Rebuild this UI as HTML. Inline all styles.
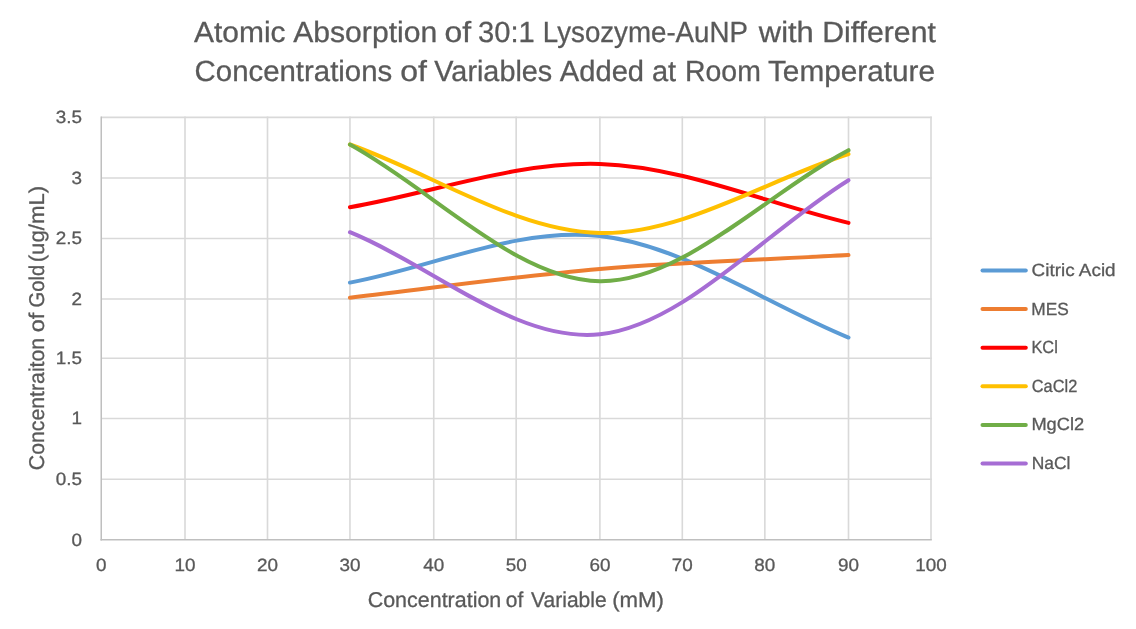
<!DOCTYPE html>
<html><head><meta charset="utf-8"><title>Atomic Absorption Chart</title>
<style>
html,body{margin:0;padding:0;background:#fff;}
body{width:1136px;height:629px;overflow:hidden;}
svg{display:block;will-change:transform;text-rendering:geometricPrecision;}
text{font-family:"Liberation Sans",Arial,sans-serif;fill:#595959;stroke:#595959;stroke-width:0.3px;}
.ax{font-size:17.8px;}
.at{font-size:21.4px;}
.ti{font-size:29.2px;}
.lg{font-size:17.6px;}
</style></head>
<body>
<svg width="1136" height="629" viewBox="0 0 1136 629">
<rect width="1136" height="629" fill="#fff"/>
<line x1="185.00" y1="116.62" x2="185.00" y2="539.70" stroke="#D9D9D9" stroke-width="1.62"/>
<line x1="267.50" y1="116.62" x2="267.50" y2="539.70" stroke="#D9D9D9" stroke-width="1.62"/>
<line x1="349.95" y1="116.62" x2="349.95" y2="539.70" stroke="#D9D9D9" stroke-width="1.62"/>
<line x1="433.75" y1="116.62" x2="433.75" y2="539.70" stroke="#D9D9D9" stroke-width="1.62"/>
<line x1="516.15" y1="116.62" x2="516.15" y2="539.70" stroke="#D9D9D9" stroke-width="1.62"/>
<line x1="599.90" y1="116.62" x2="599.90" y2="539.70" stroke="#D9D9D9" stroke-width="1.62"/>
<line x1="682.30" y1="116.62" x2="682.30" y2="539.70" stroke="#D9D9D9" stroke-width="1.62"/>
<line x1="764.85" y1="116.62" x2="764.85" y2="539.70" stroke="#D9D9D9" stroke-width="1.62"/>
<line x1="848.50" y1="116.62" x2="848.50" y2="539.70" stroke="#D9D9D9" stroke-width="1.62"/>
<line x1="931.00" y1="116.62" x2="931.00" y2="539.70" stroke="#D9D9D9" stroke-width="1.62"/>
<line x1="101.25" y1="479.20" x2="931.81" y2="479.20" stroke="#D9D9D9" stroke-width="1.62"/>
<line x1="101.25" y1="418.50" x2="931.81" y2="418.50" stroke="#D9D9D9" stroke-width="1.62"/>
<line x1="101.25" y1="358.30" x2="931.81" y2="358.30" stroke="#D9D9D9" stroke-width="1.62"/>
<line x1="101.25" y1="299.00" x2="931.81" y2="299.00" stroke="#D9D9D9" stroke-width="1.62"/>
<line x1="101.25" y1="238.50" x2="931.81" y2="238.50" stroke="#D9D9D9" stroke-width="1.62"/>
<line x1="101.25" y1="178.00" x2="931.81" y2="178.00" stroke="#D9D9D9" stroke-width="1.62"/>
<line x1="101.25" y1="117.43" x2="931.81" y2="117.43" stroke="#D9D9D9" stroke-width="1.62"/>
<line x1="101.25" y1="116.62" x2="101.25" y2="540.46" stroke="#BFBFBF" stroke-width="1.52"/>
<line x1="100.49" y1="539.70" x2="931.81" y2="539.70" stroke="#BFBFBF" stroke-width="1.52"/>
<path d="M349.95,282.60 C433.27,267.10 516.81,226.94 599.90,236.10 C682.99,245.26 765.63,303.73 848.50,337.55" fill="none" stroke="#5B9BD5" stroke-width="4.0" stroke-linecap="round" stroke-linejoin="round"/>
<path d="M349.95,297.65 C433.27,288.07 516.81,275.99 599.90,268.90 C682.99,261.81 765.63,259.70 848.50,255.10" fill="none" stroke="#ED7D31" stroke-width="4.0" stroke-linecap="round" stroke-linejoin="round"/>
<path d="M349.95,207.20 C433.27,192.77 516.81,161.29 599.90,163.90 C682.99,166.51 765.63,203.21 848.50,222.87" fill="none" stroke="#FF0000" stroke-width="4.0" stroke-linecap="round" stroke-linejoin="round"/>
<path d="M349.95,144.50 C433.27,174.00 516.81,231.42 599.90,233.00 C682.99,234.58 765.63,180.33 848.50,154.00" fill="none" stroke="#FFC000" stroke-width="4.0" stroke-linecap="round" stroke-linejoin="round"/>
<path d="M349.95,144.60 C433.27,190.13 516.81,280.27 599.90,281.20 C682.99,282.13 765.63,193.87 848.50,150.20" fill="none" stroke="#70AD47" stroke-width="4.0" stroke-linecap="round" stroke-linejoin="round"/>
<path d="M349.95,232.20 C433.27,266.23 516.81,342.97 599.90,334.30 C682.99,325.63 765.63,231.57 848.50,180.20" fill="none" stroke="#A66DD4" stroke-width="4.0" stroke-linecap="round" stroke-linejoin="round"/>
<text x="82.1" y="545.60" text-anchor="end" class="ax" textLength="10.49" lengthAdjust="spacingAndGlyphs">0</text>
<text x="82.1" y="485.10" text-anchor="end" class="ax" textLength="26.23" lengthAdjust="spacingAndGlyphs">0.5</text>
<text x="82.1" y="424.40" text-anchor="end" class="ax" textLength="10.49" lengthAdjust="spacingAndGlyphs">1</text>
<text x="82.1" y="364.20" text-anchor="end" class="ax" textLength="26.23" lengthAdjust="spacingAndGlyphs">1.5</text>
<text x="82.1" y="304.90" text-anchor="end" class="ax" textLength="10.49" lengthAdjust="spacingAndGlyphs">2</text>
<text x="82.1" y="244.40" text-anchor="end" class="ax" textLength="26.23" lengthAdjust="spacingAndGlyphs">2.5</text>
<text x="82.1" y="183.90" text-anchor="end" class="ax" textLength="10.49" lengthAdjust="spacingAndGlyphs">3</text>
<text x="82.1" y="123.33" text-anchor="end" class="ax" textLength="26.23" lengthAdjust="spacingAndGlyphs">3.5</text>
<text x="101.25" y="571.2" text-anchor="middle" class="ax" textLength="10.49" lengthAdjust="spacingAndGlyphs">0</text>
<text x="185.00" y="571.2" text-anchor="middle" class="ax" textLength="20.99" lengthAdjust="spacingAndGlyphs">10</text>
<text x="267.50" y="571.2" text-anchor="middle" class="ax" textLength="20.99" lengthAdjust="spacingAndGlyphs">20</text>
<text x="349.95" y="571.2" text-anchor="middle" class="ax" textLength="20.99" lengthAdjust="spacingAndGlyphs">30</text>
<text x="433.75" y="571.2" text-anchor="middle" class="ax" textLength="20.99" lengthAdjust="spacingAndGlyphs">40</text>
<text x="516.15" y="571.2" text-anchor="middle" class="ax" textLength="20.99" lengthAdjust="spacingAndGlyphs">50</text>
<text x="599.90" y="571.2" text-anchor="middle" class="ax" textLength="20.99" lengthAdjust="spacingAndGlyphs">60</text>
<text x="682.30" y="571.2" text-anchor="middle" class="ax" textLength="20.99" lengthAdjust="spacingAndGlyphs">70</text>
<text x="764.85" y="571.2" text-anchor="middle" class="ax" textLength="20.99" lengthAdjust="spacingAndGlyphs">80</text>
<text x="848.50" y="571.2" text-anchor="middle" class="ax" textLength="20.99" lengthAdjust="spacingAndGlyphs">90</text>
<text x="931.00" y="571.2" text-anchor="middle" class="ax" textLength="31.48" lengthAdjust="spacingAndGlyphs">100</text>
<text x="194.00" y="41.9" class="ti" textLength="91.52" lengthAdjust="spacingAndGlyphs">Atomic</text>
<text x="293.20" y="41.9" class="ti" textLength="144.05" lengthAdjust="spacingAndGlyphs">Absorption</text>
<text x="444.51" y="41.9" class="ti" textLength="26.62" lengthAdjust="spacingAndGlyphs">of</text>
<text x="478.00" y="41.9" class="ti" textLength="56.71" lengthAdjust="spacingAndGlyphs">30:1</text>
<text x="542.87" y="41.9" class="ti" textLength="205.05" lengthAdjust="spacingAndGlyphs">Lysozyme-AuNP</text>
<text x="758.86" y="41.9" class="ti" textLength="54.89" lengthAdjust="spacingAndGlyphs">with</text>
<text x="822.27" y="41.9" class="ti" textLength="113.56" lengthAdjust="spacingAndGlyphs">Different</text>
<text x="194.64" y="80.5" class="ti" textLength="197.59" lengthAdjust="spacingAndGlyphs">Concentrations</text>
<text x="400.20" y="80.5" class="ti" textLength="26.73" lengthAdjust="spacingAndGlyphs">of</text>
<text x="434.30" y="80.5" class="ti" textLength="117.90" lengthAdjust="spacingAndGlyphs">Variables</text>
<text x="559.80" y="80.5" class="ti" textLength="84.25" lengthAdjust="spacingAndGlyphs">Added</text>
<text x="651.91" y="80.5" class="ti" textLength="24.19" lengthAdjust="spacingAndGlyphs">at</text>
<text x="685.01" y="80.5" class="ti" textLength="75.80" lengthAdjust="spacingAndGlyphs">Room</text>
<text x="767.99" y="80.5" class="ti" textLength="167.04" lengthAdjust="spacingAndGlyphs">Temperature</text>
<text x="367.70" y="606.8" class="at" textLength="133.59" lengthAdjust="spacingAndGlyphs">Concentration</text>
<text x="505.77" y="606.8" class="at" textLength="17.48" lengthAdjust="spacingAndGlyphs">of</text>
<text x="531.10" y="606.8" class="at" textLength="75.59" lengthAdjust="spacingAndGlyphs">Variable</text>
<text x="612.20" y="606.8" class="at" textLength="51.78" lengthAdjust="spacingAndGlyphs">(mM)</text>
<g transform="translate(44.3,0) rotate(-90)">
<text x="-470.19" y="0" class="at" textLength="132.37" lengthAdjust="spacingAndGlyphs">Concentraiton</text>
<text x="-332.32" y="0" class="at" textLength="19.45" lengthAdjust="spacingAndGlyphs">of</text>
<text x="-307.54" y="0" class="at" textLength="42.67" lengthAdjust="spacingAndGlyphs">Gold</text>
<text x="-262.30" y="0" class="at" textLength="76.55" lengthAdjust="spacingAndGlyphs">(ug/mL)</text>
</g>
<line x1="982.5" y1="270.50" x2="1025.8" y2="270.50" stroke="#5B9BD5" stroke-width="4.0" stroke-linecap="round"/>
<text x="1031.59" y="276.00" class="lg" textLength="84.05" lengthAdjust="spacingAndGlyphs">Citric Acid</text>
<line x1="982.5" y1="309.12" x2="1025.8" y2="309.12" stroke="#ED7D31" stroke-width="4.0" stroke-linecap="round"/>
<text x="1031.37" y="314.62" class="lg" textLength="37.46" lengthAdjust="spacingAndGlyphs">MES</text>
<line x1="982.5" y1="347.74" x2="1025.8" y2="347.74" stroke="#FF0000" stroke-width="4.0" stroke-linecap="round"/>
<text x="1031.44" y="353.24" class="lg" textLength="26.40" lengthAdjust="spacingAndGlyphs">KCl</text>
<line x1="982.5" y1="386.36" x2="1025.8" y2="386.36" stroke="#FFC000" stroke-width="4.0" stroke-linecap="round"/>
<text x="1031.80" y="391.86" class="lg" textLength="45.49" lengthAdjust="spacingAndGlyphs">CaCl2</text>
<line x1="982.5" y1="424.98" x2="1025.8" y2="424.98" stroke="#70AD47" stroke-width="4.0" stroke-linecap="round"/>
<text x="1031.40" y="430.48" class="lg" textLength="52.77" lengthAdjust="spacingAndGlyphs">MgCl2</text>
<line x1="982.5" y1="463.60" x2="1025.8" y2="463.60" stroke="#A66DD4" stroke-width="4.0" stroke-linecap="round"/>
<text x="1031.66" y="469.10" class="lg" textLength="38.74" lengthAdjust="spacingAndGlyphs">NaCl</text>
</svg>
</body></html>
